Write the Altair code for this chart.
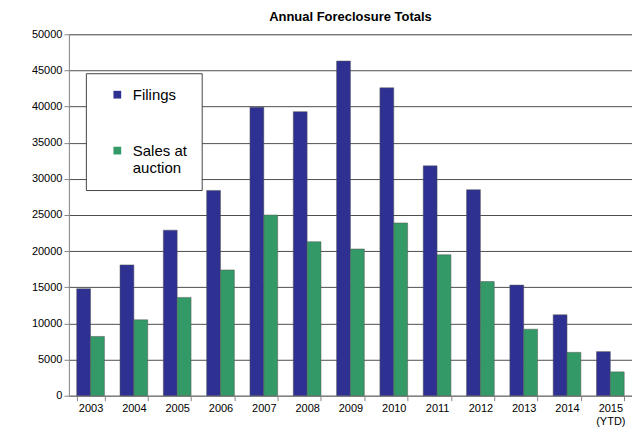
import altair as alt
import pandas as pd

years = ["2003", "2004", "2005", "2006", "2007", "2008", "2009", "2010",
         "2011", "2012", "2013", "2014", "2015 (YTD)"]
filings = [14800, 18100, 22900, 28400, 39900, 39300, 46300, 42600,
           31800, 28500, 15300, 11200, 6100]
sales = [8200, 10500, 13600, 17400, 25000, 21300, 20300, 23900,
         19500, 15800, 9200, 6000, 3300]

rows = []
for y, f, s in zip(years, filings, sales):
    rows.append({"year": y, "series": "Filings", "value": f})
    rows.append({"year": y, "series": "Sales at auction", "value": s})
df = pd.DataFrame(rows)

chart = alt.Chart(df).mark_bar(stroke="#555", strokeWidth=0.5).encode(
    x=alt.X("year:N", sort=years, title=None,
            scale=alt.Scale(paddingInner=0.36, paddingOuter=0.18),
            axis=alt.Axis(labelAngle=0, tickBand="extent", labelFontSize=11,
                          labelColor="black", domainColor="#888", tickColor="#888",
                          labelExpr="datum.label == '2015 (YTD)' ? ['2015', '(YTD)'] : datum.label")),
    xOffset=alt.XOffset("series:N", sort=["Filings", "Sales at auction"]),
    y=alt.Y("value:Q", title=None,
            scale=alt.Scale(domain=[0, 50000]),
            axis=alt.Axis(values=list(range(0, 50001, 5000)), format="d",
                          labelFontSize=11, labelColor="black", gridColor="#222",
                          gridWidth=0.8, domainColor="#888", tickColor="#888")),
    color=alt.Color("series:N", sort=["Filings", "Sales at auction"],
                    scale=alt.Scale(domain=["Filings", "Sales at auction"],
                                    range=["#2e3192", "#339966"]),
                    legend=alt.Legend(title=None, orient="none", legendX=17, legendY=39,
                                      symbolType="square", symbolSize=60,
                                      symbolOffset=10,
                                      labelFontSize=15, labelColor="black",
                                      fillColor="white", strokeColor="#444",
                                      padding=14, rowPadding=40, labelOffset=8,
                                      symbolStrokeWidth=0, labelLimit=200,
                                      labelExpr="datum.label == 'Sales at auction' ? ['Sales at', 'auction'] : datum.label")),
).properties(
    width=564, height=362,
    padding={"left": 23, "top": 3, "right": 0, "bottom": 0},
    title=alt.TitleParams("Annual Foreclosure Totals", fontSize=13, fontWeight="bold"),
).configure_view(stroke="#888").configure(font="Arial")

chart.save("out.html", embed_options={"renderer": "svg", "actions": False})
